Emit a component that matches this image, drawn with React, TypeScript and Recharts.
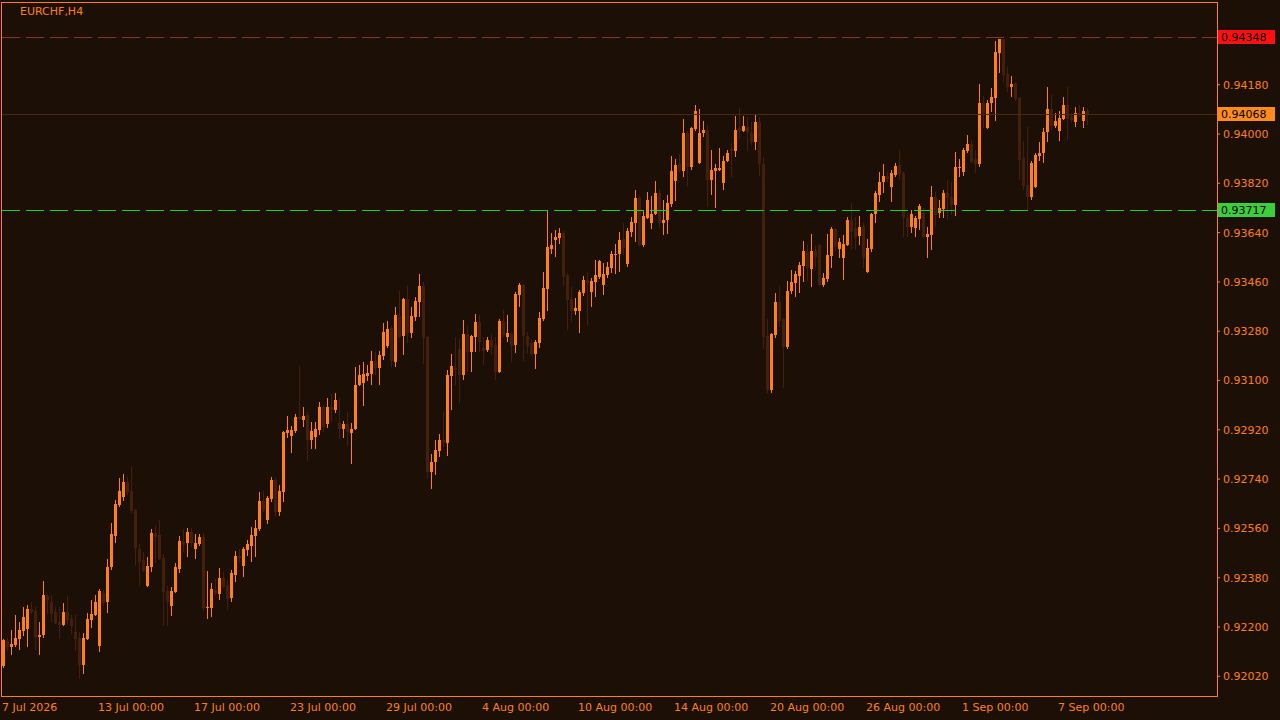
import React from "react";
import { ComposedChart, Bar, XAxis, YAxis, ReferenceLine } from "recharts";

// EURCHF H4, one entry per candle
const opens = [
  0.92057, 0.92149, 0.92127, 0.92134, 0.92156, 0.92185, 0.92193, 0.92266, 0.92258, 0.92164,
  0.92171, 0.92313, 0.92291, 0.92255, 0.92218, 0.92207, 0.92255, 0.92229, 0.92182, 0.9216,
  0.92061, 0.92156, 0.92225, 0.92244, 0.92131, 0.92324, 0.92291, 0.92419, 0.92532, 0.92645,
  0.92674, 0.92729, 0.92696, 0.92627, 0.92485, 0.92444, 0.9235, 0.92419, 0.92543, 0.92536,
  0.92452, 0.92331, 0.92276, 0.92328, 0.92412, 0.9251, 0.92507, 0.92547, 0.92485, 0.92503,
  0.92528, 0.9227, 0.9227, 0.92335, 0.9232, 0.92379, 0.92353, 0.92306, 0.9239, 0.92459,
  0.92423, 0.92481, 0.92496, 0.92532, 0.92558, 0.9266, 0.92591, 0.92667, 0.92737, 0.9262,
  0.92693, 0.92908, 0.92897, 0.92915, 0.92966, 0.92956, 0.92974, 0.92883, 0.92893, 0.92919,
  0.93003, 0.92941, 0.93003, 0.92992, 0.92945, 0.92923, 0.92941, 0.92908, 0.92923, 0.93083,
  0.93091, 0.93116, 0.93124, 0.93171, 0.93145, 0.93189, 0.93226, 0.93292, 0.93167, 0.93335,
  0.93263, 0.93397, 0.93273, 0.93332, 0.93386, 0.93445, 0.93259, 0.92766, 0.92802, 0.92842,
  0.92883, 0.92872, 0.93116, 0.93145, 0.93215, 0.9312, 0.9327, 0.93204, 0.93259, 0.93313,
  0.93219, 0.93211, 0.93248, 0.93229, 0.93131, 0.93317, 0.93259, 0.9327, 0.93229, 0.93412,
  0.93448, 0.93263, 0.93237, 0.93197, 0.93237, 0.93324, 0.93434, 0.9358, 0.93613, 0.9362,
  0.93638, 0.93485, 0.93397, 0.93354, 0.93354, 0.93419, 0.93467, 0.93423, 0.93459, 0.93478,
  0.93448, 0.93485, 0.93511, 0.93558, 0.93562, 0.93616, 0.93525, 0.93642, 0.93675, 0.93766,
  0.93595, 0.93693, 0.93675, 0.93708, 0.93784, 0.93675, 0.93686, 0.93744, 0.93828, 0.9389,
  0.93865, 0.94004, 0.93879, 0.94018, 0.93894, 0.94004, 0.94014, 0.93832, 0.93865, 0.93868,
  0.93821, 0.93901, 0.93945, 0.93938, 0.94022, 0.94011, 0.94025, 0.94004, 0.93971, 0.94044,
  0.9389, 0.93263, 0.93065, 0.93266, 0.93386, 0.93324, 0.93222, 0.93427, 0.93456, 0.93481,
  0.93518, 0.93569, 0.93507, 0.93573, 0.93595, 0.93448, 0.9347, 0.93554, 0.93653, 0.9358,
  0.93547, 0.93595, 0.93686, 0.93657, 0.93627, 0.93664, 0.93496, 0.9358, 0.93708, 0.93777,
  0.93825, 0.93846, 0.93806, 0.9385, 0.93887, 0.93857, 0.93693, 0.9366, 0.93657, 0.93689,
  0.93711, 0.93624, 0.93631, 0.9377, 0.93711, 0.93726, 0.93784, 0.9377, 0.93741, 0.93876,
  0.93861, 0.93938, 0.93963, 0.93909, 0.9389, 0.94113, 0.94022, 0.94113, 0.94131, 0.94296,
  0.94346, 0.94219, 0.94172, 0.94186, 0.94131, 0.93912, 0.93814, 0.9377, 0.93806, 0.93919,
  0.9393, 0.94007, 0.94091, 0.94029, 0.94011, 0.94055, 0.94106, 0.94062, 0.94044, 0.94076,
  0.94047, 0.94084,
];

const highs = [
  0.92156, 0.9216, 0.92189, 0.92244, 0.92218, 0.92273, 0.9228, 0.92291, 0.92273, 0.92218,
  0.92368, 0.92317, 0.92317, 0.92273, 0.92273, 0.92287, 0.92313, 0.92244, 0.92244, 0.92182,
  0.92178, 0.92251, 0.92298, 0.92317, 0.92339, 0.92335, 0.92448, 0.9258, 0.92664, 0.92744,
  0.92758, 0.92748, 0.92788, 0.92631, 0.92503, 0.92474, 0.92455, 0.92558, 0.92569, 0.92591,
  0.92466, 0.9235, 0.92346, 0.92433, 0.92532, 0.92558, 0.92562, 0.92562, 0.92539, 0.92539,
  0.92543, 0.92404, 0.92361, 0.92375, 0.92415, 0.92401, 0.92371, 0.92408, 0.92477, 0.92485,
  0.92492, 0.92518, 0.92565, 0.92591, 0.92693, 0.92696, 0.92678, 0.92748, 0.92744, 0.92718,
  0.92915, 0.9297, 0.92934, 0.92977, 0.93153, 0.93003, 0.92985, 0.92948, 0.92948, 0.93021,
  0.9301, 0.93036, 0.93051, 0.93054, 0.93036, 0.92952, 0.92985, 0.92945, 0.93149, 0.93156,
  0.93167, 0.93156, 0.93208, 0.93204, 0.93208, 0.9331, 0.93317, 0.93299, 0.93368, 0.93427,
  0.93401, 0.93448, 0.93368, 0.93405, 0.93489, 0.93459, 0.93262, 0.92832, 0.92883, 0.92905,
  0.92985, 0.93138, 0.93197, 0.93259, 0.93251, 0.93321, 0.93299, 0.93266, 0.93343, 0.93339,
  0.93259, 0.93259, 0.9327, 0.93259, 0.93324, 0.93361, 0.93339, 0.93277, 0.93423, 0.93456,
  0.93452, 0.93277, 0.93251, 0.93248, 0.9335, 0.93496, 0.93722, 0.93638, 0.93649, 0.93657,
  0.93646, 0.93493, 0.93441, 0.93401, 0.9343, 0.93481, 0.93496, 0.93474, 0.9354, 0.9354,
  0.93529, 0.93532, 0.93573, 0.93598, 0.93642, 0.93675, 0.93657, 0.93697, 0.93795, 0.93773,
  0.93719, 0.93788, 0.93773, 0.93828, 0.93799, 0.93759, 0.93777, 0.9392, 0.93909, 0.93927,
  0.94055, 0.94011, 0.94025, 0.94106, 0.94091, 0.94047, 0.94033, 0.93941, 0.9389, 0.93949,
  0.9392, 0.93941, 0.93967, 0.94066, 0.94095, 0.94066, 0.94062, 0.94044, 0.94073, 0.94062,
  0.93916, 0.93324, 0.93273, 0.93419, 0.93445, 0.93328, 0.93463, 0.93503, 0.935, 0.93532,
  0.93609, 0.93598, 0.93635, 0.93591, 0.93598, 0.93493, 0.93635, 0.9366, 0.93657, 0.9362,
  0.93631, 0.93697, 0.93748, 0.93697, 0.937, 0.93675, 0.93616, 0.93711, 0.93792, 0.93861,
  0.9389, 0.93861, 0.93868, 0.93894, 0.93941, 0.93861, 0.93711, 0.93722, 0.937, 0.93744,
  0.9373, 0.9366, 0.9381, 0.93788, 0.93759, 0.93795, 0.93832, 0.93825, 0.93934, 0.93909,
  0.93949, 0.93996, 0.93978, 0.93941, 0.94182, 0.94139, 0.94124, 0.94168, 0.94339, 0.94348,
  0.94348, 0.94244, 0.94212, 0.94189, 0.94135, 0.93974, 0.94025, 0.93901, 0.9393, 0.93971,
  0.94022, 0.94172, 0.94142, 0.94076, 0.94084, 0.94135, 0.94172, 0.94076, 0.94098, 0.94106,
  0.94098, 0.94095,
];

const lows = [
  0.9205, 0.92112, 0.92098, 0.92127, 0.92116, 0.92167, 0.92127, 0.92247, 0.92116, 0.92098,
  0.9216, 0.92247, 0.92218, 0.92211, 0.92156, 0.92203, 0.92207, 0.92174, 0.92112, 0.9201,
  0.92028, 0.92152, 0.92196, 0.9224, 0.92109, 0.92276, 0.92251, 0.92408, 0.92507, 0.92638,
  0.9266, 0.92682, 0.92616, 0.92423, 0.9235, 0.92401, 0.92346, 0.92401, 0.92433, 0.92444,
  0.92203, 0.92203, 0.9224, 0.92324, 0.92397, 0.92474, 0.92455, 0.92492, 0.92448, 0.92496,
  0.92258, 0.92229, 0.92236, 0.92313, 0.92298, 0.92342, 0.92262, 0.92291, 0.92364, 0.92433,
  0.92382, 0.92459, 0.92437, 0.92455, 0.9255, 0.9262, 0.92576, 0.92656, 0.92602, 0.92605,
  0.92656, 0.9289, 0.92835, 0.92908, 0.92956, 0.9293, 0.92806, 0.9285, 0.9285, 0.92901,
  0.92912, 0.92926, 0.92948, 0.92981, 0.92886, 0.9289, 0.92861, 0.92795, 0.92919, 0.9308,
  0.93007, 0.93098, 0.93083, 0.9312, 0.93083, 0.93175, 0.93219, 0.93149, 0.93149, 0.93255,
  0.93193, 0.93237, 0.93255, 0.93317, 0.93332, 0.9316, 0.9274, 0.92704, 0.92755, 0.92821,
  0.92857, 0.92824, 0.92992, 0.93083, 0.93018, 0.93102, 0.93131, 0.93131, 0.93204, 0.93204,
  0.93156, 0.93204, 0.93193, 0.93102, 0.93127, 0.93259, 0.9324, 0.93167, 0.932, 0.93368,
  0.93171, 0.932, 0.93189, 0.93142, 0.93219, 0.93317, 0.93354, 0.93562, 0.93551, 0.93598,
  0.93445, 0.93284, 0.93313, 0.93339, 0.93273, 0.93408, 0.93299, 0.93368, 0.93405, 0.9347,
  0.93412, 0.93474, 0.93493, 0.93489, 0.93496, 0.93558, 0.93514, 0.93624, 0.93606, 0.93591,
  0.93587, 0.93689, 0.93653, 0.93704, 0.93657, 0.93631, 0.93635, 0.93733, 0.93755, 0.93861,
  0.93843, 0.93806, 0.93868, 0.94011, 0.9389, 0.93989, 0.93733, 0.93777, 0.9373, 0.93865,
  0.93795, 0.93898, 0.93843, 0.93916, 0.93985, 0.94007, 0.93938, 0.9396, 0.93941, 0.93846,
  0.93215, 0.93054, 0.93054, 0.93255, 0.93295, 0.93072, 0.93215, 0.93416, 0.93405, 0.93419,
  0.93459, 0.93463, 0.93441, 0.93511, 0.93445, 0.93441, 0.93459, 0.93511, 0.93573, 0.93547,
  0.93467, 0.93591, 0.93576, 0.93576, 0.93595, 0.93511, 0.93493, 0.93569, 0.93675, 0.93751,
  0.93784, 0.93825, 0.93751, 0.93843, 0.93832, 0.93624, 0.93624, 0.93638, 0.93624, 0.93649,
  0.9362, 0.93547, 0.93576, 0.9366, 0.93693, 0.93693, 0.93686, 0.93704, 0.937, 0.93843,
  0.93846, 0.9393, 0.93894, 0.93857, 0.93879, 0.94022, 0.94018, 0.9408, 0.94047, 0.94222,
  0.94189, 0.94153, 0.94135, 0.9412, 0.93832, 0.93795, 0.93722, 0.93759, 0.93803, 0.93901,
  0.93894, 0.93971, 0.94014, 0.94022, 0.93974, 0.94051, 0.93978, 0.94044, 0.94025, 0.94062,
  0.94022, 0.94033,
];

const closes = [
  0.92152, 0.92127, 0.92138, 0.9216, 0.92189, 0.92236, 0.92266, 0.92255, 0.92164, 0.92171,
  0.92317, 0.92298, 0.92247, 0.92214, 0.92207, 0.92255, 0.92225, 0.92203, 0.92156, 0.92061,
  0.9216, 0.92229, 0.92247, 0.92291, 0.92331, 0.92287, 0.92419, 0.92539, 0.92649, 0.92696,
  0.92729, 0.92693, 0.92623, 0.92488, 0.92437, 0.92404, 0.92423, 0.92543, 0.92528, 0.92448,
  0.92328, 0.92291, 0.92331, 0.92419, 0.92514, 0.92499, 0.92547, 0.92507, 0.92507, 0.92528,
  0.9227, 0.92273, 0.92339, 0.92324, 0.92379, 0.92346, 0.92302, 0.92397, 0.92459, 0.92452,
  0.92485, 0.92503, 0.92536, 0.92562, 0.9266, 0.92627, 0.92671, 0.92737, 0.9262, 0.92696,
  0.92912, 0.92919, 0.92919, 0.92966, 0.92959, 0.9297, 0.92883, 0.92915, 0.92923, 0.93003,
  0.9293, 0.93003, 0.92992, 0.93029, 0.92923, 0.92941, 0.92912, 0.92923, 0.93083, 0.9312,
  0.93124, 0.93127, 0.93171, 0.93145, 0.93193, 0.93277, 0.93288, 0.93171, 0.93339, 0.93259,
  0.93397, 0.93273, 0.93335, 0.9339, 0.93445, 0.93255, 0.92766, 0.92802, 0.92846, 0.92883,
  0.92872, 0.9312, 0.93153, 0.93138, 0.9312, 0.9327, 0.93204, 0.93263, 0.93313, 0.9324,
  0.93208, 0.93248, 0.93222, 0.93131, 0.93317, 0.93266, 0.93273, 0.93226, 0.93416, 0.93448,
  0.93263, 0.93226, 0.93197, 0.9324, 0.93328, 0.93438, 0.93587, 0.93595, 0.93624, 0.93638,
  0.93478, 0.93394, 0.93354, 0.93365, 0.93423, 0.93467, 0.93456, 0.93463, 0.93485, 0.93536,
  0.93489, 0.93514, 0.93562, 0.93562, 0.93613, 0.93584, 0.93646, 0.93679, 0.93766, 0.93595,
  0.937, 0.93759, 0.93708, 0.93784, 0.93675, 0.93686, 0.93748, 0.93865, 0.93887, 0.93868,
  0.94004, 0.93879, 0.94022, 0.94084, 0.94004, 0.94014, 0.93832, 0.93868, 0.93876, 0.93876,
  0.93901, 0.9393, 0.93938, 0.94014, 0.94011, 0.94029, 0.94007, 0.93971, 0.94044, 0.9389,
  0.93259, 0.93065, 0.9327, 0.93386, 0.93317, 0.93222, 0.93427, 0.93459, 0.93489, 0.93521,
  0.93573, 0.93511, 0.93573, 0.93551, 0.93448, 0.93474, 0.93558, 0.93653, 0.93587, 0.93605,
  0.93598, 0.93686, 0.93642, 0.93624, 0.9366, 0.93547, 0.93584, 0.93708, 0.93784, 0.93825,
  0.93846, 0.93835, 0.93857, 0.93883, 0.93854, 0.93693, 0.9366, 0.93708, 0.93693, 0.93737,
  0.93624, 0.93635, 0.9377, 0.93704, 0.9373, 0.93784, 0.93766, 0.93741, 0.93879, 0.93879,
  0.93941, 0.93963, 0.93898, 0.9389, 0.94113, 0.94077, 0.94113, 0.94135, 0.94299, 0.94346,
  0.94215, 0.94172, 0.94182, 0.94128, 0.93905, 0.9381, 0.9377, 0.93894, 0.93923, 0.9393,
  0.94007, 0.94091, 0.94029, 0.94047, 0.94058, 0.94106, 0.94055, 0.94051, 0.94076, 0.94069,
  0.94084, 0.94068,
];

// bar index where each date label sits
const tickIdx = [0, 24, 48, 72, 96, 120, 144, 168, 192, 216, 240, 264];
const tickLabels = [
  "7 Jul 2026", "13 Jul 00:00", "17 Jul 00:00", "23 Jul 00:00", "29 Jul 00:00", "4 Aug 00:00",
  "10 Aug 00:00", "14 Aug 00:00", "20 Aug 00:00", "26 Aug 00:00", "1 Sep 00:00", "7 Sep 00:00",
];
const priceTicks = [
  0.9202, 0.922, 0.9238, 0.9256, 0.9274, 0.9292, 0.931, 0.9328, 0.9346, 0.9364, 0.9382, 0.94, 0.9418,
];

const highLine = 0.94348;
const bidLine = 0.94068;
const levelLine = 0.93717;

const BG = "#1b0f06";
const BULL = "#ff8019";
const BEAR = "#42200c";
const FONT = "DejaVu Sans";
const SLOTS = 304; // candles + empty shift area on the right
const PLOT_RIGHT = 1217;

const rows: any[] = [];
for (let i = 0; i < SLOTS; i++) {
  if (i < opens.length) rows.push({ i, o: opens[i], h: highs[i], l: lows[i], c: closes[i] });
  else rows.push({ i });
}

function Candle(props: any) {
  const { x, y, width, height, payload } = props;
  if (!payload || payload.o == null) return null;
  const { o, h, l, c } = payload;
  const top = Math.min(y, y + height);
  const span = Math.abs(height);
  const py = (v: number) => top + ((h - v) / (h - l)) * span;
  const col = c >= o ? BULL : BEAR;
  const cx = Math.round(x + width / 2);
  const bTop = Math.round(py(Math.max(o, c)));
  const bBot = Math.max(bTop + 1, Math.round(py(Math.min(o, c))));
  const wTop = Math.round(top);
  const wBot = Math.round(top + span);
  return (
    <g shapeRendering="crispEdges">
      <rect x={cx} y={wTop} width={1} height={Math.max(1, wBot - wTop)} fill={col} />
      <rect x={cx - 1} y={bTop} width={3} height={bBot - bTop} fill={col} />
    </g>
  );
}

const DateTick = (props: any) => {
  const { x, y, payload } = props;
  const k = tickIdx.indexOf(payload.value);
  if (k < 0) return null;
  return (
    <text x={x - 1} y={y + 15} fill={BULL} fontSize={11} fontFamily={FONT} textAnchor="start">
      {tickLabels[k]}
    </text>
  );
};

// horizontal level line plus the price box on the right scale
const levelMark = (text: string, bg: string, stroke: string, dash?: string) => (p: any) => {
  const y = Math.floor(p.viewBox.y - 1) + 0.5;
  return (
    <g>
      <line
        x1={2}
        x2={PLOT_RIGHT}
        y1={y}
        y2={y}
        stroke={stroke}
        strokeWidth={1}
        strokeDasharray={dash}
      />
      <rect x={PLOT_RIGHT} y={y - 7.5} width={58} height={14} fill={bg} />
      <text x={PLOT_RIGHT + 4} y={y + 3.5} fill="#000" fontSize={11} fontFamily={FONT}>
        {text}
      </text>
    </g>
  );
};

export default function App() {
  return (
    <div style={{ position: "absolute", left: 0, top: 0, width: 1280, height: 720, background: BG }}>
      <ComposedChart
        width={1280}
        height={720}
        data={rows}
        margin={{ top: 2, right: 0, bottom: 0, left: 1 }}
        barCategoryGap={0}
      >
        <XAxis
          dataKey="i"
          height={24}
          ticks={tickIdx}
          interval={0}
          tick={<DateTick />}
          tickLine={false}
          tickSize={0}
          tickMargin={0}
          axisLine={false}
        />
        <YAxis
          orientation="right"
          width={1280 - PLOT_RIGHT}
          domain={[0.91948, 0.94482]}
          allowDataOverflow
          ticks={priceTicks}
          interval={0}
          tickFormatter={(v: number) => v.toFixed(5)}
          tick={{ fill: BULL, fontSize: 11, fontFamily: FONT }}
          tickSize={3}
          tickMargin={3}
          tickLine={{ stroke: BULL }}
          axisLine={false}
        />
        <Bar
          dataKey={(d: any) => (d.h == null ? null : [d.l, d.h])}
          shape={<Candle />}
          isAnimationActive={false}
        />
        <ReferenceLine
          y={bidLine}
          stroke="none"
          label={levelMark(bidLine.toFixed(5), "#ff8c1a", "#4a2810")}
        />
        <ReferenceLine
          y={highLine}
          stroke="none"
          label={levelMark(highLine.toFixed(5), "#ff1010", "#8c3328", "18 6")}
        />
        <ReferenceLine
          y={levelLine}
          stroke="none"
          label={levelMark(levelLine.toFixed(5), "#3ccf3c", "#1ed21e", "18 6")}
        />
      </ComposedChart>
      {/* chart frame */}
      <div
        style={{
          position: "absolute",
          left: 1,
          top: 2,
          width: PLOT_RIGHT,
          height: 695,
          boxSizing: "border-box",
          border: `1px solid ${BULL}`,
          pointerEvents: "none",
        }}
      />
      <div
        style={{
          position: "absolute",
          left: 20,
          top: 5,
          color: BULL,
          fontSize: 11,
          fontFamily: FONT,
          lineHeight: "14px",
        }}
      >
        EURCHF,H4
      </div>
    </div>
  );
}
